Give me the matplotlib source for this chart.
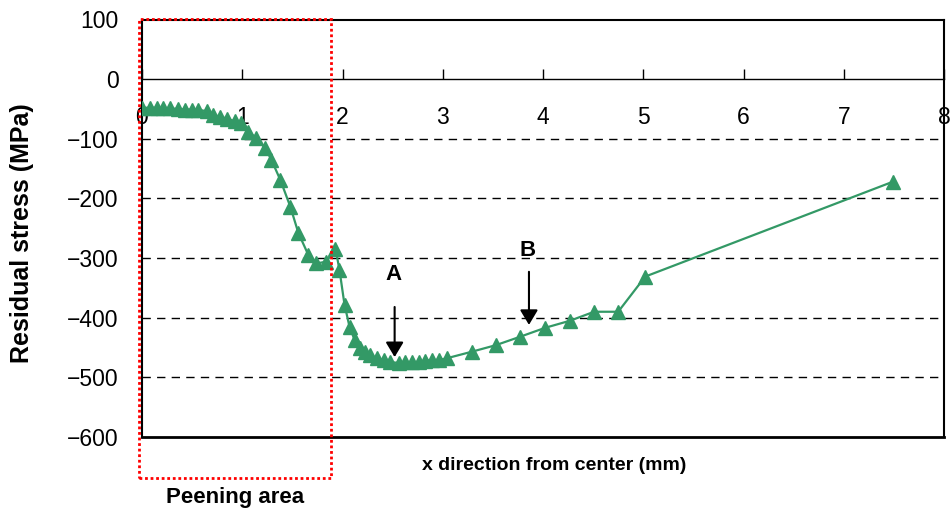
import matplotlib
matplotlib.use("Agg")
import matplotlib.pyplot as plt
from matplotlib.patches import Rectangle

plt.rcParams['font.family'] = ['Liberation Sans', 'DejaVu Sans']

# residual stress profile along x (mm, MPa)
x_mm = [0.00, 0.08, 0.15, 0.21, 0.28, 0.36, 0.43, 0.50, 0.56, 0.645,
        0.71, 0.78, 0.845, 0.93, 0.99, 1.06, 1.14, 1.23, 1.29, 1.38,
        1.48, 1.56, 1.66, 1.74, 1.84, 1.93, 1.97, 2.02, 2.07, 2.12,
        2.17, 2.22, 2.27, 2.34, 2.41, 2.47, 2.56, 2.62, 2.69, 2.76,
        2.82, 2.89, 2.96, 3.04, 3.29, 3.53, 3.77, 4.02, 4.27, 4.51,
        4.75, 5.02, 7.49]
stress = [-48, -48, -48, -49, -49, -50, -51, -51, -51, -54,
          -60, -63, -66, -71, -74, -88, -99, -116, -135, -169,
          -214, -258, -295, -309, -306, -284, -320, -378, -415, -437,
          -450, -457, -462, -468, -471, -474, -476, -475, -475, -474,
          -472, -471, -471, -468, -457, -446, -432, -417, -405, -390,
          -390, -331, -172]

x_ticks = [0, 1, 2, 3, 4, 5, 6, 7, 8]
y_ticks = [100, 0, -100, -200, -300, -400, -500, -600]
grid_levels = [-100, -200, -300, -400, -500]

# marked positions: (label, x, arrow tail, arrow tip, label y)
markers_ab = [("A", 2.52, -382, -466, -327),
              ("B", 3.86, -323, -412, -288)]

peening_x = (-0.03, 1.886)
peening_y = (100.5, -669)

fig = plt.figure(figsize=(9.52, 5.19), dpi=100)
ax = fig.add_axes([142 / 952, 1 - 437 / 519, (944 - 142) / 952, (437 - 19.5) / 519])

ax.set_xlim(0, 8)
ax.set_ylim(-600, 100)

for lv in grid_levels:
    ax.axhline(lv, color='black', lw=1.0, linestyle=(0, (6, 4.5)), zorder=1)

ax.plot(x_mm, stress, color='#339966', lw=1.6, marker='^', ms=10,
        markeredgecolor='#339966', zorder=3)

# box frame, x axis runs through zero
for s in ['left', 'right', 'top']:
    ax.spines[s].set_linewidth(1.5)
ax.spines['bottom'].set_position(('data', 0))
ax.spines['bottom'].set_linewidth(1.0)
ax.axhline(-600, color='black', lw=2.0, clip_on=False, zorder=4)

ax.set_xticks(x_ticks)
ax.set_xticklabels([str(v) for v in x_ticks])
ax.set_yticks(y_ticks)
ax.set_yticklabels([f"{v}".replace('-', '\u2212') for v in y_ticks])
ax.tick_params(axis='x', direction='in', length=7, width=1, pad=19, labelsize=16.5)
ax.tick_params(axis='y', direction='in', length=0, pad=17, labelsize=16.5)

for lab, xa, tail, tip, ly in markers_ab:
    ax.annotate('', xy=(xa, tip), xytext=(xa, tail),
                arrowprops=dict(arrowstyle='-|>,head_length=0.5,head_width=0.3',
                                mutation_scale=18, lw=1.5, color='black',
                                shrinkA=0, shrinkB=0), zorder=5)
    ax.text(xa - 0.01, ly, lab, ha='center', va='center', fontsize=16,
            fontweight='bold', zorder=5)

# peening area outline
ax.add_patch(Rectangle((peening_x[0], peening_y[1]), peening_x[1] - peening_x[0],
                       peening_y[0] - peening_y[1], fill=False, edgecolor='#ff0000',
                       lw=2.0, linestyle=(0, (1, 1)), clip_on=False, zorder=6))

fig.text(235 / 952, 1 - 497 / 519, "Peening area", ha='center', va='center',
         fontsize=16, fontweight='bold')
fig.text(554 / 952, 1 - 465 / 519, "x direction from center (mm)", ha='center',
         va='center', fontsize=14, fontweight='bold')
fig.text(22 / 952, 1 - 233 / 519, "Residual stress (MPa)", ha='center', va='center',
         rotation=90, fontsize=18, fontweight='bold')

fig.savefig('out.png', dpi=100)
